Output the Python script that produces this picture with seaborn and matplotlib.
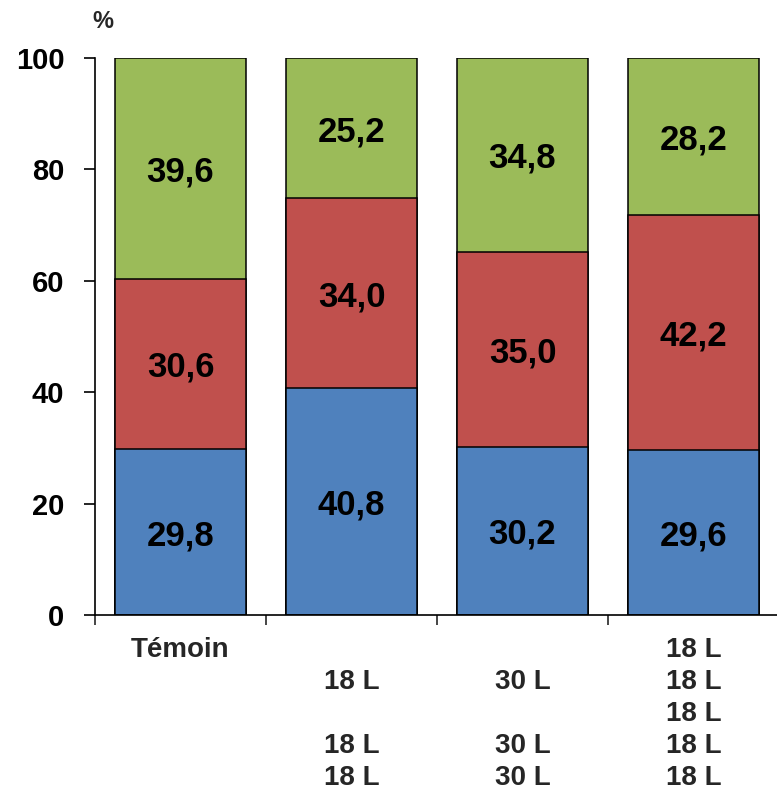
import matplotlib
matplotlib.use("Agg")
import matplotlib.pyplot as plt
import seaborn as sns
import pandas as pd
import numpy as np

categories = ["Témoin", "A", "B", "C"]
tick_labels = [
    "Témoin\n\n\n\n",
    "\n18 L\n\n18 L\n18 L",
    "\n30 L\n\n30 L\n30 L",
    "18 L\n18 L\n18 L\n18 L\n18 L",
]
blue_vals = [29.8, 40.8, 30.2, 29.6]
red_vals = [30.6, 34.0, 35.0, 42.2]
green_vals = [39.6, 25.2, 34.8, 28.2]

colors = {"blue": "#4F81BD", "red": "#C0504D", "green": "#9BBB59"}

sns.set_style("white")
plt.rcParams["font.family"] = ["Liberation Sans", "DejaVu Sans"]
plt.rcParams["font.weight"] = "bold"

df = pd.DataFrame({"cat": categories, "blue": blue_vals, "red": red_vals, "green": green_vals})
df["b_top"] = df["blue"]
df["r_top"] = df["blue"] + df["red"]
df["g_top"] = df["r_top"] + df["green"]

fig = plt.figure(figsize=(7.77, 7.90), dpi=100)
ax = fig.add_axes([95 / 777, (790 - 615) / 790, 684 / 777, 557 / 790])

for col, c in [("g_top", "green"), ("r_top", "red"), ("b_top", "blue")]:
    sns.barplot(data=df, x="cat", y=col, color=colors[c], saturation=1,
                width=0.766, edgecolor="black", linewidth=1.1, ax=ax, zorder=2)

# value labels
for i in range(len(categories)):
    segs = [(0, df["b_top"][i], blue_vals[i]),
            (df["b_top"][i], df["r_top"][i], red_vals[i]),
            (df["r_top"][i], df["g_top"][i], green_vals[i])]
    for lo, hi, v in segs:
        ax.text(i, (lo + hi) / 2, f"{v:.1f}".replace(".", ","), ha="center", va="center_baseline",
                fontsize=25, fontweight="bold", color="black", zorder=3)

ax.set_ylim(0, 100)
ax.set_xlim(-0.5, 3.5)
ax.set_yticks([0, 20, 40, 60, 80, 100])
ax.set_yticklabels(["0", "20", "40", "60", "80", "100"], fontsize=21, fontweight="bold")
ax.tick_params(axis="y", direction="out", length=8, width=1.2, pad=14, left=True, colors="black")

ax.set_xticks([-0.5, 0.5, 1.5, 2.5, 3.5])
ax.set_xticklabels([])
ax.tick_params(axis="x", which="major", direction="out", length=7, width=1.2, bottom=True)
ax.set_xticks([0, 1, 2, 3], minor=True)
ax.set_xticklabels(tick_labels, minor=True, fontsize=20, fontweight="bold", linespacing=1.30)
ax.tick_params(axis="x", which="minor", length=0, pad=16)

ax.set_xlabel("")
ax.set_ylabel("")
for s in ["top", "right"]:
    ax.spines[s].set_visible(False)
for s in ["left", "bottom"]:
    ax.spines[s].set_linewidth(1.2)
    ax.spines[s].set_color("black")

fig.text(103 / 777, 1 - 21 / 790, "%", ha="center", va="center", fontsize=17, fontweight="bold")

fig.savefig("out.png", dpi=100)
